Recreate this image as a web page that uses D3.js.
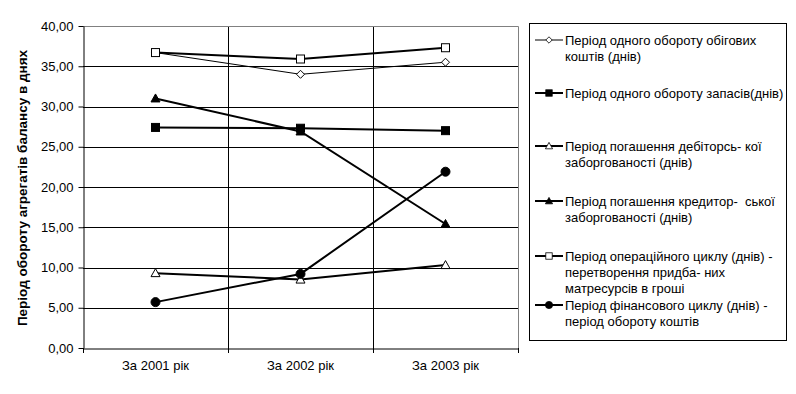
<!DOCTYPE html>
<html><head><meta charset="utf-8">
<script src="https://cdn.jsdelivr.net/npm/d3@7"></script>
<style>body{margin:0;background:#fff}svg{display:block}text{font-family:"Liberation Sans",Arial,sans-serif;white-space:pre}</style>
</head><body><svg id="c" width="796" height="394"></svg>
<script>
const categories = ["За 2001 рік","За 2002 рік","За 2003 рік"];
const yTicks = [0,5,10,15,20,25,30,35,40];
const s1 = [36.7, 34.0, 35.5];
const s2 = [27.4, 27.3, 27.0];
const s3 = [9.3, 8.5, 10.3];
const s4 = [31.0, 26.9, 15.4];
const s5 = [36.7, 35.9, 37.3];
const s6 = [5.7, 9.2, 21.9];
const seriesNames = [
  ["Період одного обороту обігових","коштів (днів)"],
  ["Період одного обороту запасів(днів)"],
  ["Період погашення дебіторсь- кої","заборгованості (днів)"],
  ["Період погашення кредитор-  ської","заборгованості (днів)"],
  ["Період операційного циклу (днів) -","перетворення придба- них","матресурсів в гроші"],
  ["Період фінансового циклу (днів) -","період обороту коштів"]
];
const yTitle = "Період обороту агрегатів балансу в днях";

const series = [
  {v:s1, m:"diamond", fill:"#fff", w:1},
  {v:s2, m:"square", fill:"#000", w:2},
  {v:s3, m:"triangle", fill:"#fff", w:2},
  {v:s4, m:"triangle", fill:"#000", w:2},
  {v:s5, m:"square", fill:"#fff", w:2},
  {v:s6, m:"circle", fill:"#000", w:2}
];

const svg = d3.select("#c");
const L=83, R=518, T=26, B=348;
const FS = 13;
const x = d3.scaleBand().domain(categories).range([L,R]);
const y = d3.scaleLinear().domain([0,40]).range([B,T]);

// grid
const g = svg.append("g");
g.selectAll("line.h").data(yTicks.slice(1,-1)).join("line")
  .attr("x1",L).attr("x2",R).attr("y1",d=>Math.round(y(d))+0.5).attr("y2",d=>Math.round(y(d))+0.5)
  .attr("stroke","#000").attr("stroke-width",1);
g.selectAll("line.v").data(categories.slice(1)).join("line")
  .attr("x1",d=>Math.round(x(d))+0.5).attr("x2",d=>Math.round(x(d))+0.5).attr("y1",T).attr("y2",B)
  .attr("stroke","#000");
g.append("path").attr("d",`M${L},${T+0.5}H${R+0.5}V${B}`).attr("fill","none").attr("stroke","#808080");

// axes
const ya = svg.append("g").attr("transform",`translate(${L+0.5},0)`)
  .call(d3.axisLeft(y).tickValues(yTicks).tickSize(5).tickSizeOuter(0).tickFormat(d=>d3.format(".2f")(d).replace(".",",")));
ya.select(".domain").attr("stroke","#000");
ya.selectAll("text").attr("font-size",FS).attr("font-family","Liberation Sans, Arial, sans-serif").attr("x",-10).attr("fill","#000");

const xa = svg.append("g").attr("transform",`translate(0,${B+0.5})`)
  .call(d3.axisBottom(x).tickSize(0).tickSizeOuter(0));
xa.select(".domain").attr("stroke","#000");
xa.selectAll("text").attr("font-size",FS).attr("font-family","Liberation Sans, Arial, sans-serif").attr("dy","1.45em").attr("fill","#000");
const bounds = [L, ...categories.slice(1).map(c=>x(c)), R];
svg.selectAll("line.xt").data(bounds).join("line")
  .attr("x1",d=>Math.round(d)+0.5).attr("x2",d=>Math.round(d)+0.5).attr("y1",B).attr("y2",B+5).attr("stroke","#000");

svg.append("text").attr("transform",`translate(27,${(T+B)/2+1}) rotate(-90)`)
  .attr("text-anchor","middle").attr("font-size",13.5).attr("font-weight","bold").text(yTitle);

function marker(sel, m, fill, cx, cy){
  if(m==="diamond"){
    sel.append("path").attr("d",`M${cx},${cy-4}L${cx+4},${cy}L${cx},${cy+4}L${cx-4},${cy}Z`).attr("fill",fill).attr("stroke","#000").attr("stroke-width",1);
  } else if(m==="square"){
    sel.append("rect").attr("x",cx-4).attr("y",cy-4).attr("width",8).attr("height",8).attr("fill",fill).attr("stroke","#000").attr("stroke-width",1);
  } else if(m==="triangle"){
    sel.append("path").attr("d",`M${cx},${cy-4.5}L${cx+4.5},${cy+3.5}L${cx-4.5},${cy+3.5}Z`).attr("fill",fill).attr("stroke","#000").attr("stroke-width",1);
  } else {
    sel.append("circle").attr("cx",cx).attr("cy",cy).attr("r",4.5).attr("fill",fill).attr("stroke","#000");
  }
}
const cx = c => x(c)+x.bandwidth()/2;
const line = d3.line().x((d,i)=>cx(categories[i])).y(d=>y(d));
series.forEach(s=>{
  svg.append("path").attr("d",line(s.v)).attr("fill","none").attr("stroke","#000").attr("stroke-width",s.w);
});
series.forEach(s=>{
  const gm = svg.append("g");
  s.v.forEach((v,i)=>marker(gm, s.m, s.fill, cx(categories[i]), y(v)));
});

// legend
const LX=529, LY=23, LW=257, LH=317;
svg.append("rect").attr("x",LX+0.5).attr("y",LY+0.5).attr("width",LW).attr("height",LH).attr("fill","#fff").attr("stroke","#000");
const rowY = [40, 93, 146, 201, 256, 305];
series.forEach((s,i)=>{
  const yy = rowY[i];
  const lg = svg.append("g");
  lg.append("line").attr("x1",535).attr("x2",563).attr("y1",yy).attr("y2",yy).attr("stroke","#000").attr("stroke-width",s.w);
  const ms = lg.append("g").attr("transform",`translate(549,${yy}) scale(0.8) translate(-549,${-yy})`);
  marker(ms, s.m, s.fill, 549, yy);
  const t = lg.append("text").attr("font-size",FS);
  seriesNames[i].forEach((ln,j)=>{
    t.append("tspan").attr("x",565).attr("y",yy+j*16.3).attr("dy","0.35em").text(ln);
  });
});
</script></body></html>
